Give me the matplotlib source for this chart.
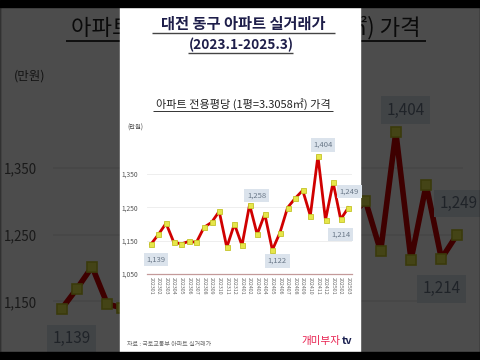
import matplotlib
matplotlib.use("Agg")
import matplotlib.pyplot as plt
from matplotlib.patches import Rectangle

plt.rcParams['font.family'] = ['Noto Sans CJK KR', 'DejaVu Sans']

# data (만원 per 평)
months = ['202301', '202302', '202303', '202304', '202305', '202306', '202307',
          '202308', '202309', '202310', '202311', '202312', '202401', '202402',
          '202403', '202404', '202405', '202406', '202407', '202408', '202409',
          '202410', '202411', '202412', '202501', '202502', '202503']
prices = [1139, 1169, 1202, 1146, 1140, 1148, 1145, 1190, 1205, 1238, 1130, 1200,
          1136, 1258, 1169, 1230, 1122, 1174, 1249, 1277, 1301, 1225, 1404, 1212,
          1325, 1214, 1249]
label_idx = [0, 13, 16, 22, 25, 26]
yticks = [1050, 1150, 1250, 1350]

title1 = "대전 동구 아파트 실거래가"
title2 = "(2023.1-2025.3)"
chart_title = "아파트 전용평당 (1평=3.3058㎡) 가격"
unit = "(만원)"
source = "자료 : 국토교통부 아파트 실거래가"

W, H = 480, 360
CX, CY = 240, 180


def P(x, y, s):
    return CX + (x - CX) * s, CY + (y - CY) * s


def canvas(fig, z):
    ax = fig.add_axes([0, 0, 1, 1], zorder=z)
    ax.set_xlim(0, W)
    ax.set_ylim(H, 0)
    ax.axis('off')
    ax.patch.set_alpha(0)
    return ax


def draw(fig, s, z):
    main = (s == 1)
    cv = canvas(fig, z)
    x0, y0 = P(120, 7, s)
    x1, y1 = P(360, 352, s)
    cv.add_patch(Rectangle((x0, y0), x1 - x0, y1 - y0, color='white'))

    def txt(x, y, t, size, **kw):
        X, Y = P(x, y, s)
        cv.text(X, Y, t, fontsize=size * s, va='center', **kw)

    def uline(xa, xb, y, lw, color):
        A = P(xa, y, s)
        B = P(xb, y, s)
        cv.plot([A[0], B[0]], [A[1], B[1]], color=color, lw=lw * s,
                solid_capstyle='butt')

    navy = '#1e1e4a'
    if main:
        txt(243, 23.5, title1, 11, ha='center', color=navy, fontweight='bold')
        uline(152, 335, 32.5, 1.0, '#444444')
        txt(241, 45, title2, 9.8, ha='center', color=navy, fontweight='bold')
        uline(188, 293, 52.5, 1.0, '#444444')
    txt(243, 104, chart_title, 8, ha='center', color='#222222')
    uline(153, 333, 110.5, 0.7, '#333333')
    txt(127, 128, unit, 4.5, ha='left', color='#444444')
    if main:
        txt(127, 345, source, 4.3, ha='left', color='#666666')
        txt(340.5, 341, "개미부자", 7.6, ha='right', color='#e8204f')
        txt(341.5, 341, "tv", 7.6, ha='left', color='#1a2050', fontweight='bold')

    l, t = P(146.7, 140.7, s)
    r, b = P(351.7, 274, s)
    ax = fig.add_axes([l / W, 1 - b / H, (r - l) / W, (b - t) / H], zorder=z + 0.5)
    ax.patch.set_alpha(0)
    xs = list(range(len(prices)))
    ax.plot(xs, prices, color='#d00000', lw=2.0 * s, marker='s', ms=3.6 * s,
            mfc='#e6e64a', mec='#c4c428', mew=0.6 * s, zorder=3)
    ax.set_xlim(-0.55, 26.45)
    ax.set_ylim(1050, 1450)
    shown = yticks if main else yticks[1:]
    ax.set_yticks(shown)
    ax.set_yticklabels([f'{v:,}' for v in shown])
    ax.set_xticks(xs)
    if main:
        ax.set_xticklabels(months, rotation=270)
    else:
        ax.set_xticklabels([])
    ax.yaxis.grid(True, color='#ebebeb', lw=0.6 * s)
    ax.set_axisbelow(True)
    for sp in ['top', 'right', 'left']:
        ax.spines[sp].set_visible(False)
    ax.spines['bottom'].set_color('#c49a9a')
    ax.spines['bottom'].set_linewidth(0.9 * s)
    ax.tick_params(axis='y', length=0, labelsize=4.8 * s, colors='#555555', pad=6 * s)
    ax.tick_params(axis='x', length=0, labelsize=3.8 * s, colors='#666666', pad=2.5 * s)

    offsets = {0: (5, -15), 13: (7, 9), 16: (5, -11), 22: (5, 11), 25: (0, -15), 26: (1, 16)}
    for i in label_idx:
        dx, dy = offsets[i]
        ax.annotate(f'{prices[i]:,}', (i, prices[i]), xytext=(dx * s, dy * s),
                    textcoords='offset pixels', ha='center', va='center',
                    fontsize=5.5 * s, color='#6a7888', zorder=4,
                    bbox=dict(boxstyle='square,pad=0.35', fc='#dbe3ec', ec='none'))


fig = plt.figure(figsize=(4.8, 3.6), dpi=100)

# magnified background copy
draw(fig, 2, 0)

# dark overlay
ov = canvas(fig, 1)
ov.add_patch(Rectangle((0, 0), W, H, color='black', alpha=0.7))

# main panel
draw(fig, 1, 2)

# black bars top and bottom
top = canvas(fig, 10)
top.add_patch(Rectangle((0, 0), W, 7, color='black'))
top.add_patch(Rectangle((0, 352), W, 8, color='black'))

fig.savefig('out.png', dpi=100)
